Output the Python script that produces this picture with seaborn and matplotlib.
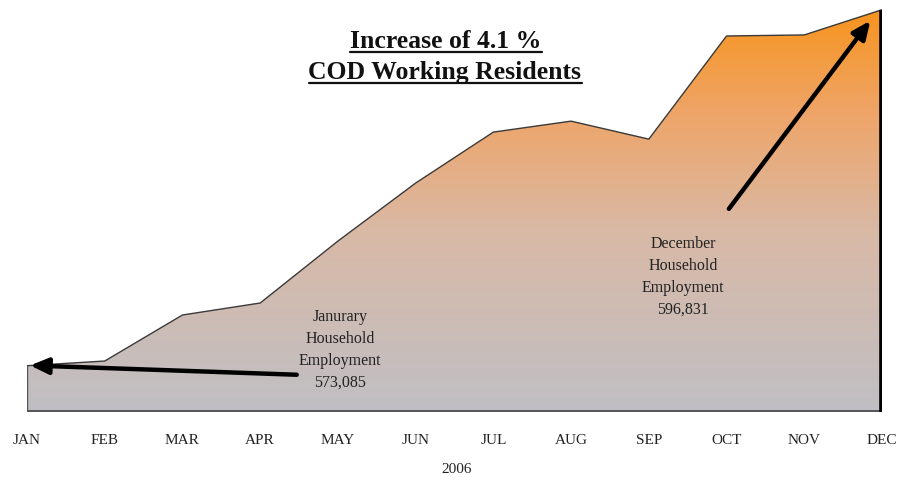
import numpy as np
import pandas as pd
import matplotlib
matplotlib.use("Agg")
import matplotlib.pyplot as plt
import seaborn as sns
from matplotlib.colors import LinearSegmentedColormap
from matplotlib.lines import Line2D

months = ["JAN", "FEB", "MAR", "APR", "MAY", "JUN", "JUL", "AUG", "SEP", "OCT", "NOV", "DEC"]
employment = [573085, 573400, 576470, 577270, 581400, 585270, 588670, 589400, 588200, 595080, 595150, 596831]
year_label = "2006"
title_lines = ["Increase of 4.1 %", "COD Working Residents"]
jan_note = "Janurary\nHousehold\nEmployment\n573,085"
dec_note = "December\nHousehold\nEmployment\n596,831"

df = pd.DataFrame({"month": months, "x": np.arange(len(months)), "employment": employment})

sns.set_theme(style="white")
plt.rcParams["font.family"] = ["Liberation Serif", "DejaVu Serif"]

fig = plt.figure(figsize=(9.10, 4.81), dpi=100)
ax = fig.add_axes([27 / 910, 68 / 481, 855 / 910, 413 / 481])
ymin = 570000
ymax = 570000 + 413 * 66.7
ax.set_xlim(0, len(months) - 1)
ax.set_ylim(ymin, ymax)

# gradient fill clipped to the area
poly = ax.fill_between(df["x"], ymin, df["employment"], facecolor="none", edgecolor="none")
cmap = LinearSegmentedColormap.from_list(
    "g", [(0.0, "#C0BFC4"), (0.45, "#D9B9A6"), (0.75, "#EFA466"), (1.0, "#F7941E")])
grad = np.linspace(0, 1, 256).reshape(-1, 1)
top_val = employment[-1]
im = ax.imshow(grad, cmap=cmap, aspect="auto", origin="lower",
               extent=[0, len(months) - 1, ymin, top_val], zorder=1)
im.set_clip_path(poly.get_paths()[0], transform=ax.transData)

# outlines
sns.lineplot(data=df, x="x", y="employment", ax=ax, color="#3a3a3a", linewidth=1.0, zorder=3)
ax.plot([0, 0], [ymin, employment[0]], color="#555555", linewidth=1.0, zorder=3)
ax.plot([0, len(months) - 1], [ymin + 60, ymin + 60], color="#555555", linewidth=1.4, zorder=3)
ax.plot([len(months) - 1 - 0.01, len(months) - 1 - 0.01], [ymin, employment[-1]],
        color="black", linewidth=2.6, zorder=3, solid_capstyle="butt")

for s in ax.spines.values():
    s.set_visible(False)
ax.set_yticks([])
ax.set_xticks(df["x"])
ax.set_xticklabels(months, fontsize=11, color="#222222")
ax.tick_params(axis="x", length=0, pad=15)
ax.set_xlabel("")
ax.set_ylabel("")

# arrows
ax.annotate("", xy=(0.04, employment[0] + 20), xytext=(3.47, employment[0] - 600),
            arrowprops=dict(arrowstyle="-|>,head_length=0.9,head_width=0.4", color="black",
                            lw=3.2, shrinkA=0, shrinkB=0), zorder=5)
ax.annotate("", xy=(10.85, 596100), xytext=(9.03, 583550),
            arrowprops=dict(arrowstyle="-|>,head_length=0.9,head_width=0.4", color="black",
                            lw=3.2, shrinkA=0, shrinkB=0), zorder=5)

# notes
fig.text(340 / 910, 1 - 350 / 481, jan_note, ha="center", va="center", fontsize=11.5,
         linespacing=1.48, color="#222222")
fig.text(683 / 910, 1 - 277 / 481, dec_note, ha="center", va="center", fontsize=11.5,
         linespacing=1.48, color="#222222")
fig.text(457 / 910, 1 - 470 / 481, year_label, ha="center", va="center", fontsize=11,
         color="#222222")

# title with underline
t1 = fig.text(446 / 910, 1 - 42 / 481, title_lines[0], ha="center", va="center",
              fontsize=18.5, fontweight="bold", color="#111111")
t2 = fig.text(445 / 910, 1 - 73 / 481, title_lines[1], ha="center", va="center",
              fontsize=18.5, fontweight="bold", color="#111111")
fig.canvas.draw()
r = fig.canvas.get_renderer()
for t, ypx in [(t1, 53), (t2, 84)]:
    bb = t.get_window_extent(r)
    yy = 1 - ypx / 481
    fig.add_artist(Line2D([bb.x0 / 910, bb.x1 / 910], [yy, yy], color="#111111",
                          linewidth=1.6, transform=fig.transFigure))

fig.savefig("out.png", dpi=100)
